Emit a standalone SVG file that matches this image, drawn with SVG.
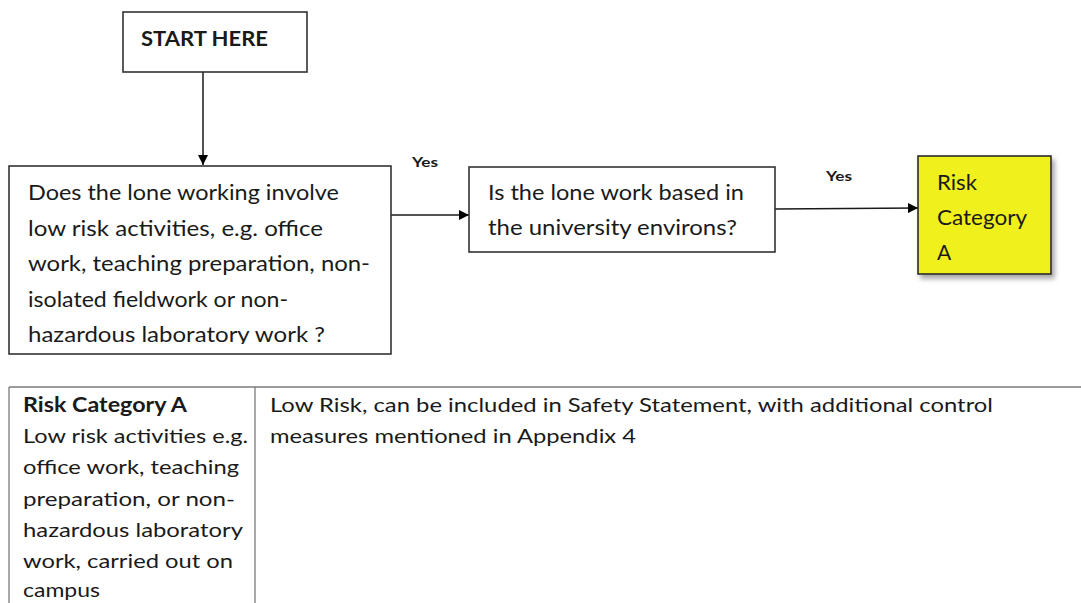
<svg xmlns="http://www.w3.org/2000/svg" width="1081" height="603" viewBox="0 0 1081 603">
  <style>
    .box { fill: #ffffff; stroke: #333333; stroke-width: 1.6; }
    .t { font-family: Lato, "Open Sans", "Liberation Sans", sans-serif; font-size: 21px; fill: #1a1a1a; }
    .tt { font-family: Lato, "Open Sans", "Liberation Sans", sans-serif; font-size: 20px; fill: #1a1a1a; }
    .b { font-weight: bold; }
    .yes { font-family: Lato, "Open Sans", "Liberation Sans", sans-serif; font-size: 14px; font-weight: bold; fill: #1a1a1a; }
    .conn { stroke: #1a1a1a; stroke-width: 1.5; fill: none; }
    .grid { stroke: #7a7a7a; stroke-width: 1.3; fill: none; }
  </style>
  <defs>
    <marker id="arrow" viewBox="0 0 10 10" refX="10" refY="5" markerWidth="10" markerHeight="10" markerUnits="userSpaceOnUse" orient="auto">
      <path d="M0,0 L10,5 L0,10 z" fill="#000000"/>
    </marker>
    <filter id="shadow" x="-20%" y="-20%" width="150%" height="150%">
      <feDropShadow dx="3" dy="4" stdDeviation="2.5" flood-color="#000000" flood-opacity="0.35"/>
    </filter>
    <clipPath id="q1clip">
      <rect x="10" y="167" width="380" height="177"/>
    </clipPath>
  </defs>

  <g id="connectors">
    <line class="conn" x1="203" y1="72" x2="203" y2="165" marker-end="url(#arrow)"/>
    <line class="conn" x1="391" y1="215" x2="469" y2="215" marker-end="url(#arrow)"/>
    <line class="conn" x1="775" y1="209" x2="918" y2="208" marker-end="url(#arrow)"/>
    <text class="yes" x="412" y="167" textLength="26" lengthAdjust="spacingAndGlyphs">Yes</text>
    <text class="yes" x="826" y="181" textLength="26" lengthAdjust="spacingAndGlyphs">Yes</text>
  </g>

  <g id="start">
    <rect class="box" x="123" y="12" width="184" height="60"/>
    <text class="t b" x="141" y="46" font-size="20" textLength="127" lengthAdjust="spacingAndGlyphs">START HERE</text>
  </g>

  <g id="q1">
    <rect class="box" x="9" y="166" width="382" height="188"/>
    <g clip-path="url(#q1clip)">
      <text class="t" x="28" y="200" textLength="311" lengthAdjust="spacingAndGlyphs">Does the lone working involve</text>
      <text class="t" x="28" y="235.5" textLength="295" lengthAdjust="spacingAndGlyphs">low risk activities, e.g.  office</text>
      <text class="t" x="28" y="271" textLength="342" lengthAdjust="spacingAndGlyphs">work, teaching preparation, non-</text>
      <text class="t" x="28" y="306.5" textLength="260" lengthAdjust="spacingAndGlyphs">isolated fieldwork or non-</text>
      <text class="t" x="28" y="342" textLength="297" lengthAdjust="spacingAndGlyphs">hazardous laboratory work ?</text>
    </g>
  </g>

  <g id="q2">
    <rect class="box" x="469" y="167" width="306" height="85"/>
    <text class="t" x="488" y="200" textLength="256" lengthAdjust="spacingAndGlyphs">Is the lone work based in</text>
    <text class="t" x="488" y="235" textLength="249" lengthAdjust="spacingAndGlyphs">the university environs?</text>
  </g>

  <g id="riskA">
    <rect x="918" y="156" width="133" height="118" fill="#f0f01e" stroke="#2a2a2a" stroke-width="1.6" filter="url(#shadow)"/>
    <text class="t" x="937" y="190" textLength="40" lengthAdjust="spacingAndGlyphs">Risk</text>
    <text class="t" x="937" y="225" textLength="90" lengthAdjust="spacingAndGlyphs">Category</text>
    <text class="t" x="937" y="260">A</text>
  </g>

  <g id="table">
    <line class="grid" x1="9" y1="387" x2="1081" y2="387"/>
    <line class="grid" x1="9" y1="387" x2="9" y2="603"/>
    <line class="grid" x1="255" y1="387" x2="255" y2="603"/>
    <text class="tt b" x="23" y="412" textLength="164" lengthAdjust="spacingAndGlyphs">Risk Category A</text>
    <text class="tt" x="23" y="443" textLength="225" lengthAdjust="spacingAndGlyphs">Low risk activities e.g.</text>
    <text class="tt" x="23" y="474" textLength="216" lengthAdjust="spacingAndGlyphs">office work, teaching</text>
    <text class="tt" x="23" y="506" textLength="212" lengthAdjust="spacingAndGlyphs">preparation, or non-</text>
    <text class="tt" x="23" y="537" textLength="220" lengthAdjust="spacingAndGlyphs">hazardous laboratory</text>
    <text class="tt" x="23" y="568" textLength="210" lengthAdjust="spacingAndGlyphs">work, carried out on</text>
    <text class="tt" x="23" y="597" textLength="77" lengthAdjust="spacingAndGlyphs">campus</text>
    <text class="tt" x="270" y="412" textLength="723" lengthAdjust="spacingAndGlyphs">Low Risk, can be included in Safety Statement, with additional control</text>
    <text class="tt" x="270" y="443" textLength="366" lengthAdjust="spacingAndGlyphs">measures mentioned in Appendix 4</text>
  </g>
</svg>
